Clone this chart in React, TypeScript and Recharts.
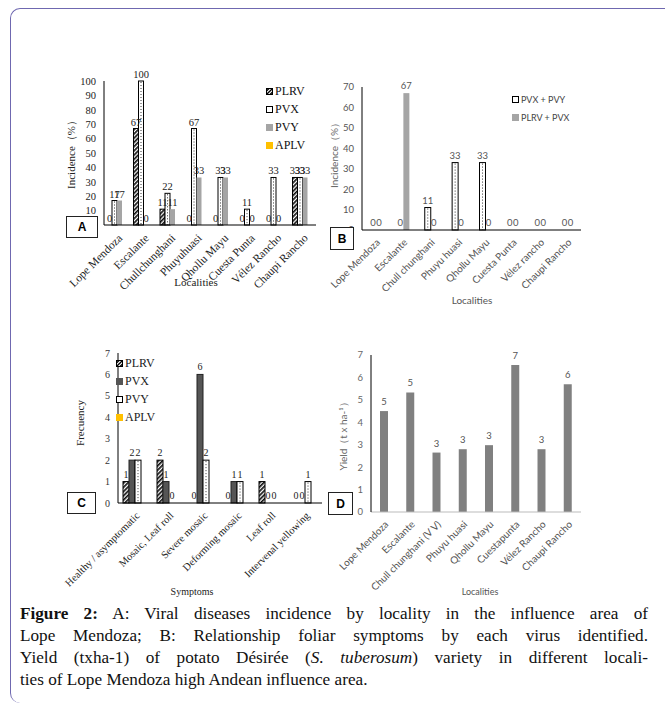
import { BarChart, Bar, XAxis, YAxis, LabelList, Legend } from 'recharts';

const SERIF = '"Liberation Serif", "Times New Roman", serif';
const SANS = 'Lato, "Liberation Sans", Arial, sans-serif';

// Panel A: incidence by locality (%)
const localitiesA = ['Lope Mendoza', 'Escalante', 'Chullchunghani', 'Phuyuhuasi', 'Qhollu Mayu', 'Cuesta Punta', 'Vélez Rancho', 'Chaupi Rancho'];
const plrvA = [0, 67, 11, 0, 0, 0, 0, 33];
const pvxA = [17, 100, 22, 67, 33, 11, 33, 33];
const pvyA = [17, 0, 11, 33, 33, 0, 0, 33];
const aplvA = [null, null, null, null, null, null, null, null];
const ticksA = [0, 10, 20, 30, 40, 50, 60, 70, 80, 90, 100];

// Panel B: mixed infections (%)
const localitiesB = ['Lope Mendoza', 'Escalante', 'Chull chunghani', 'Phuyu huasi', 'Qhollu Mayu', 'Cuesta Punta', 'Vélez rancho', 'Chaupi Rancho'];
const pvxPvyB = [0, 0, 11, 33, 33, 0, 0, 0];
const plrvPvxB = [0, 67, 0, 0, 0, 0, 0, 0];
const ticksB = [0, 10, 20, 30, 40, 50, 60, 70];

// Panel C: symptoms frequency
const symptomsC = ['Healthy / asymptomatic', 'Mosaic, Leaf roll', 'Severe mosaic', 'Deforming mosaic', 'Leaf roll', 'Intervenal yellowing'];
const plrvC = [1, 2, 0, 0, 1, 0];
const pvxC = [2, 1, 6, 1, 0, 0];
const pvyC = [2, 0, 2, 1, 0, 1];
const aplvC = [null, null, null, null, null, null];
const ticksC = [0, 1, 2, 3, 4, 5, 6, 7];

// Panel D: yield (t/ha)
const localitiesD = ['Lope Mendoza', 'Escalante', 'Chull chunghani (V V)', 'Phuyu huasi', 'Qhollu Mayu', 'Cuestapunta', 'Vélez Rancho', 'Chaupi Rancho'];
const yieldD = [4.5, 5.33, 2.65, 2.8, 2.98, 6.55, 2.8, 5.7];
const ticksD = [0, 1, 2, 3, 4, 5, 6, 7];

const dataA = localitiesA.map((name, i) => ({ name, PLRV: plrvA[i], PVX: pvxA[i], PVY: pvyA[i], APLV: aplvA[i] }));
const dataB = localitiesB.map((name, i) => ({ name, a: pvxPvyB[i], b: plrvPvxB[i] }));
const dataC = symptomsC.map((name, i) => ({ name, PLRV: plrvC[i], PVX: pvxC[i], PVY: pvyC[i], APLV: aplvC[i] }));
const dataD = localitiesD.map((name, i) => ({ name, y: yieldD[i] }));

// bar shape; zero-height bars draw nothing but keep their labels
const barShape = (fill: string, stroke?: string, dotted?: boolean) => (props: any) => {
  const { x, y, width, height } = props;
  if (!height || height <= 0) return <g />;
  return (
    <g>
      <rect x={x} y={y} width={width} height={height} fill={fill} stroke={stroke || 'none'} strokeWidth={stroke ? 1 : 0} />
      {dotted && (
        <line x1={x + width / 2} x2={x + width / 2} y1={y + 1} y2={y + height} stroke="#333" strokeDasharray="1 2" />
      )}
    </g>
  );
};

const HatchDefs = ({ id }: { id: string }) => (
  <defs>
    <pattern id={id} width="3" height="3" patternUnits="userSpaceOnUse" patternTransform="rotate(45)">
      <rect width="3" height="3" fill="#fff" />
      <line x1="0.8" y1="0" x2="0.8" y2="3" stroke="#111" strokeWidth="1.8" />
    </pattern>
  </defs>
);

const Icon = ({ kind }: { kind: string }) => {
  if (kind === 'hatch') {
    return (
      <svg width="7" height="7" style={{ marginRight: 2 }}>
        <rect x="0.5" y="0.5" width="6" height="6" fill="#fff" stroke="#000" />
        <line x1="0" y1="7" x2="7" y2="0" stroke="#000" strokeWidth="1.3" />
        <line x1="0" y1="3.5" x2="3.5" y2="0" stroke="#000" strokeWidth="1.3" />
        <line x1="3.5" y1="7" x2="7" y2="3.5" stroke="#000" strokeWidth="1.3" />
      </svg>
    );
  }
  const fills: Record<string, string> = { white: '#fff', gray: '#a5a5a5', dark: '#555', yellow: '#ffc000' };
  const stroke = kind === 'white' ? '#000' : fills[kind];
  return (
    <svg width="7" height="7" style={{ marginRight: 2 }}>
      <rect x="0.5" y="0.5" width="6" height="6" fill={fills[kind]} stroke={stroke} />
    </svg>
  );
};

const makeLegend = (order: string[], kinds: Record<string, string>, labels: Record<string, string>, font: string, size: number, color: string, rowH: number) =>
  (props: any) => {
    const items = [...(props.payload || [])].sort((p: any, q: any) => order.indexOf(p.value) - order.indexOf(q.value));
    return (
      <div style={{ fontFamily: font, fontSize: size, color }}>
        {items.map((p: any) => (
          <div key={p.value} style={{ display: 'flex', alignItems: 'center', height: rowH, whiteSpace: 'nowrap' }}>
            <Icon kind={kinds[p.value]} />
            <span>{labels[p.value] || p.value}</span>
          </div>
        ))}
      </div>
    );
  };

const legendA = makeLegend(['PLRV', 'PVX', 'PVY', 'APLV'], { PLRV: 'hatch', PVX: 'white', PVY: 'gray', APLV: 'yellow' }, {}, SERIF, 12, '#111', 18);
const legendB = makeLegend(['a', 'b'], { a: 'white', b: 'gray' }, { a: 'PVX + PVY', b: 'PLRV + PVX' }, SANS, 9, '#444', 18);
const legendC = makeLegend(['PLRV', 'PVX', 'PVY', 'APLV'], { PLRV: 'hatch', PVX: 'dark', PVY: 'white', APLV: 'yellow' }, {}, SERIF, 12, '#222', 18);

const Title = ({ x, y, text, font, size, color, rotate }: any) => (
  <div
    style={{
      position: 'absolute', left: x, top: y, transform: `translate(-50%, -50%)${rotate ? ' rotate(-90deg)' : ''}`,
      fontFamily: font, fontSize: size, color, whiteSpace: 'nowrap',
    }}
  >
    {text}
  </div>
);

const LetterBox = ({ x, y, w, h, letter }: any) => (
  <div
    style={{
      position: 'absolute', left: x, top: y, width: w, height: h, border: '1px solid #222', background: '#fff',
      fontFamily: '"Liberation Sans", Arial, sans-serif', fontWeight: 'bold', fontSize: 12,
      display: 'flex', alignItems: 'center', justifyContent: 'center', boxSizing: 'border-box',
    }}
  >
    {letter}
  </div>
);

const xTickA = { angle: -45, textAnchor: 'end', fontSize: 11.5, fontFamily: SERIF, fill: '#222' } as any;
const xTickC = { angle: -45, textAnchor: 'end', fontSize: 10.5, fontFamily: SERIF, fill: '#222' } as any;
const xTickSans = { angle: -45, textAnchor: 'end', fontSize: 10, fontFamily: SANS, fill: '#555' } as any;

const App = () => {
  return (
    <div style={{ position: 'absolute', left: 0, top: 0, width: 665, height: 714, background: '#fff', overflow: 'hidden' }}>
      <div
        style={{
          position: 'absolute', left: 10, top: 8, width: 700, height: 694,
          borderLeft: '1.5px solid #6f68b0', borderTop: '1.5px solid #6f68b0',
          borderTopLeftRadius: 10, borderBottomLeftRadius: 10,
        }}
      />

      {/* A */}
      <div style={{ position: 'absolute', left: 20, top: 60 }}>
        <BarChart width={310} height={260} data={dataA} margin={{ top: 21, right: 14, bottom: 0, left: 0 }} barGap={0} barSize={5}>
          <HatchDefs id="hatchA" />
          <XAxis dataKey="name" interval={0} tick={xTickA} tickLine={false} height={95} axisLine={{ stroke: '#000' }} />
          <XAxis xAxisId="top" orientation="top" dataKey="name" tick={false} tickLine={false} height={0} axisLine={{ stroke: '#666' }} />
          <YAxis domain={[0, 100]} ticks={ticksA} interval={0} width={84} tickLine={false} axisLine={{ stroke: '#000' }}
            tick={{ fontSize: 10.5, fontFamily: SERIF, fill: '#222' }} />
          <YAxis yAxisId="right" orientation="right" type="number" domain={[0, 100]} tick={false} tickLine={false} width={0} axisLine={{ stroke: '#666' }} />
          <Legend content={legendA} layout="vertical" align="center" verticalAlign="middle" wrapperStyle={{ left: 246, top: 22, width: 60, height: 72 }} />
          <Bar dataKey="PLRV" name="PLRV" fill="url(#hatchA)" shape={barShape('url(#hatchA)', '#000')} isAnimationActive={false}>
            <LabelList dataKey="PLRV" position="top" offset={3} fontSize={10.5} fontFamily={SERIF} fill="#222" />
          </Bar>
          <Bar dataKey="PVX" name="PVX" fill="#fff" shape={barShape('#fff', '#000', true)} isAnimationActive={false}>
            <LabelList dataKey="PVX" position="top" offset={3} fontSize={10.5} fontFamily={SERIF} fill="#222" />
          </Bar>
          <Bar dataKey="PVY" name="PVY" fill="#a5a5a5" shape={barShape('#a5a5a5')} isAnimationActive={false}>
            <LabelList dataKey="PVY" position="top" offset={3} fontSize={10.5} fontFamily={SERIF} fill="#222" />
          </Bar>
          <Bar dataKey="APLV" name="APLV" fill="#ffc000" isAnimationActive={false} />
        </BarChart>
      </div>
      <Title x={71} y={152} text="Incidence（%）" font={SERIF} size={11} color="#222" rotate />
      <Title x={196} y={282} text="Localities" font={SERIF} size={11} color="#222" />
      <LetterBox x={66} y={216} w={32} h={22} letter="A" />

      {/* B */}
      <div style={{ position: 'absolute', left: 325, top: 60 }}>
        <BarChart width={320} height={260} data={dataB} margin={{ top: 27, right: 64, bottom: 0, left: 0 }} barGap={0} barSize={6}>
          <XAxis dataKey="name" interval={0} tick={xTickSans} tickLine={false} height={90} axisLine={{ stroke: '#000' }} />
          <XAxis xAxisId="top" orientation="top" dataKey="name" tick={false} tickLine={false} height={0} axisLine={{ stroke: '#000' }} />
          <YAxis domain={[0, 70]} ticks={ticksB} interval={0} width={37} tickLine={false} axisLine={{ stroke: '#000' }}
            tick={{ fontSize: 9.5, fontFamily: SANS, fill: '#555' }} />
          <YAxis yAxisId="right" orientation="right" type="number" domain={[0, 70]} tick={false} tickLine={false} width={0} axisLine={{ stroke: '#000' }} />
          <Legend content={legendB} layout="vertical" align="center" verticalAlign="middle" wrapperStyle={{ left: 187, top: 30, width: 70, height: 36 }} />
          <Bar dataKey="a" name="a" fill="#fff" shape={barShape('#fff', '#000', true)} isAnimationActive={false}>
            <LabelList dataKey="a" position="top" offset={4} fontSize={9.5} fontFamily={SANS} fill="#555" />
          </Bar>
          <Bar dataKey="b" name="b" fill="#a5a5a5" shape={barShape('#a5a5a5')} isAnimationActive={false}>
            <LabelList dataKey="b" position="top" offset={4} fontSize={9.5} fontFamily={SANS} fill="#555" />
          </Bar>
        </BarChart>
      </div>
      <Title x={335} y={153} text="Incidence（%）" font={SANS} size={10} color="#666" rotate />
      <Title x={472} y={300} text="Localities" font={SANS} size={10} color="#555" />
      <LetterBox x={330} y={227} w={24} h={23} letter="B" />

      {/* C */}
      <div style={{ position: 'absolute', left: 20, top: 335 }}>
        <BarChart width={310} height={265} data={dataC} margin={{ top: 18, right: 8, bottom: 0, left: 0 }} barGap={0} barSize={6}>
          <HatchDefs id="hatchC" />
          <XAxis dataKey="name" interval={0} tick={xTickC} tickLine={false} height={97} axisLine={{ stroke: '#000' }} />
          <XAxis xAxisId="top" orientation="top" dataKey="name" tick={false} tickLine={false} height={0} axisLine={{ stroke: '#555' }} />
          <YAxis domain={[0, 7]} ticks={ticksC} interval={0} width={98} tickLine={false} axisLine={{ stroke: '#000' }}
            tick={{ fontSize: 10, fontFamily: SERIF, fill: '#333' }} />
          <YAxis yAxisId="right" orientation="right" type="number" domain={[0, 7]} tick={false} tickLine={false} width={0} axisLine={{ stroke: '#555' }} />
          <Legend content={legendC} layout="vertical" align="center" verticalAlign="middle" wrapperStyle={{ left: 96, top: 19, width: 60, height: 72 }} />
          <Bar dataKey="PLRV" name="PLRV" fill="url(#hatchC)" shape={barShape('url(#hatchC)', '#000')} isAnimationActive={false}>
            <LabelList dataKey="PLRV" position="top" offset={4} fontSize={10} fontFamily={SERIF} fill="#222" />
          </Bar>
          <Bar dataKey="PVX" name="PVX" fill="#555" shape={barShape('#555', '#222')} isAnimationActive={false}>
            <LabelList dataKey="PVX" position="top" offset={4} fontSize={10} fontFamily={SERIF} fill="#222" />
          </Bar>
          <Bar dataKey="PVY" name="PVY" fill="#fff" shape={barShape('#fff', '#000', true)} isAnimationActive={false}>
            <LabelList dataKey="PVY" position="top" offset={4} fontSize={10} fontFamily={SERIF} fill="#222" />
          </Bar>
          <Bar dataKey="APLV" name="APLV" fill="#ffc000" isAnimationActive={false} />
        </BarChart>
      </div>
      <Title x={80} y={423} text="Frecuency" font={SERIF} size={11} color="#222" rotate />
      <Title x={192} y={591} text="Symptoms" font={SERIF} size={10} color="#222" />
      <LetterBox x={67} y={492} w={29} h={22} letter="C" />

      {/* D */}
      <div style={{ position: 'absolute', left: 325, top: 335 }}>
        <BarChart width={320} height={265} data={dataD} margin={{ top: 20, right: 64, bottom: 0, left: 0 }} barSize={8}>
          <XAxis dataKey="name" interval={0} tick={xTickSans} tickLine={false} height={88} axisLine={{ stroke: '#bbb' }} />
          <XAxis xAxisId="top" orientation="top" dataKey="name" tick={false} tickLine={false} height={0} axisLine={{ stroke: '#000' }} />
          <YAxis domain={[0, 7]} ticks={ticksD} interval={0} width={46} tickLine={false} axisLine={{ stroke: '#000' }}
            tick={{ fontSize: 9.5, fontFamily: SANS, fill: '#666' }} />
          <YAxis yAxisId="right" orientation="right" type="number" domain={[0, 7]} tick={false} tickLine={false} width={0} axisLine={{ stroke: '#000' }} />
          <Bar dataKey="y" fill="#808080" isAnimationActive={false}>
            <LabelList dataKey="y" position="top" offset={6} fontSize={9.5} fontFamily={SANS} fill="#555"
              formatter={(v: any) => Math.round(Number(v))} />
          </Bar>
        </BarChart>
      </div>
      <Title x={344} y={434} text="Yield（t x ha-¹）" font={SANS} size={10} color="#666" rotate />
      <Title x={480} y={591} text="Localities" font={SANS} size={9} color="#555" />
      <LetterBox x={328} y={492} w={25} h={23} letter="D" />

      {/* caption */}
      <div style={{ position: 'absolute', left: 20, top: 603, width: 628, fontFamily: SERIF, fontSize: 17.2, lineHeight: '22px', color: '#111' }}>
        <div style={{ textAlign: 'justify', textAlignLast: 'justify' }}>
          <b>Figure 2:</b> A: Viral diseases incidence by locality in the influence area of
        </div>
        <div style={{ textAlign: 'justify', textAlignLast: 'justify' }}>
          Lope Mendoza; B: Relationship foliar symptoms by each virus identified.
        </div>
        <div style={{ textAlign: 'justify', textAlignLast: 'justify' }}>
          Yield (txha-1) of potato Désirée (<i>S. tuberosum</i>) variety in different locali-
        </div>
        <div>ties of Lope Mendoza high Andean influence area.</div>
      </div>
    </div>
  );
};

export default App;
